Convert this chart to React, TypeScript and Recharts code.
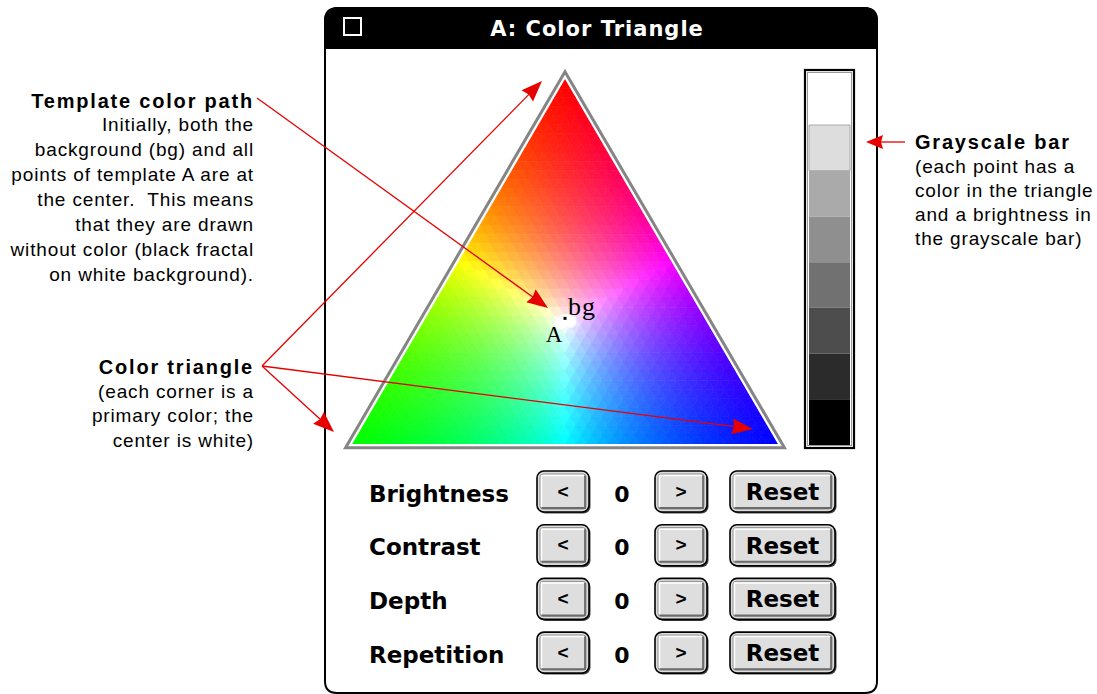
import React from "react";
import { ComposedChart, XAxis, YAxis, Scatter, ReferenceArea, ReferenceLine, ReferenceDot } from "recharts";

const W = 1097;
const H = 694;

// values
const windowTitle = "A: Color Triangle";
const cornerColors = [
  [255, 0, 0], // top
  [0, 255, 0], // bottom left
  [0, 0, 255], // bottom right
];
const grayLevels = [255, 221, 170, 143, 113, 77, 43, 0];
const controlNames = ["Brightness", "Contrast", "Depth", "Repetition"];
const controlValues = [0, 0, 0, 0];
const templatePoints = [
  { label: "bg", red: 1 / 3, green: 1 / 3, blue: 1 / 3 },
  { label: "A", red: 1 / 3, green: 1 / 3, blue: 1 / 3 },
];
const pathTitle = "Template color path";
const pathLines = [
  "Initially, both the",
  "background (bg) and all",
  "points of template A are at",
  "the center.  This means",
  "that they are drawn",
  "without color (black fractal",
  "on white background).",
];
const triangleTitle = "Color triangle";
const triangleLines = ["(each corner is a", "primary color; the", "center is white)"];
const grayTitle = "Grayscale bar";
const grayLines = ["(each point has a", "color in the triangle", "and a brightness in", "the grayscale bar)"];

// layout
const WIN = { x1: 325, x2: 877, y1: 8, y2: 693 };
const TRI = { left: 352, right: 778, top: 79, bottom: 444 };
const BAR = { x1: 805, x2: 854, y1: 70, y2: 448 };
const ROW_TOP = 471;
const ROW_STEP = 53.7;
const BTN_H = 41;
const RED = "#e60000";

const uiFont = "'DejaVu Sans', sans-serif";
const noteFont = "'Liberation Sans', Arial, sans-serif";

function mixColor(w: number[]) {
  const c = [0, 1, 2].map((k) => w[0] * cornerColors[0][k] + w[1] * cornerColors[1][k] + w[2] * cornerColors[2][k]);
  const m = Math.max(...c) || 1;
  return `rgb(${c.map((v) => Math.round((v / m) * 255)).join(",")})`;
}

function grow(pts: number[][], d: number) {
  const [A, B, C] = pts;
  const len = (p: number[], q: number[]) => Math.hypot(p[0] - q[0], p[1] - q[1]);
  const a = len(B, C), b = len(A, C), c = len(A, B);
  const s = a + b + c;
  const I = [(a * A[0] + b * B[0] + c * C[0]) / s, (a * A[1] + b * B[1] + c * C[1]) / s];
  const area = Math.abs((B[0] - A[0]) * (C[1] - A[1]) - (C[0] - A[0]) * (B[1] - A[1])) / 2;
  const r = area / (s / 2);
  const k = (r + d) / r;
  return pts.map((p) => [I[0] + k * (p[0] - I[0]), I[1] + k * (p[1] - I[1])]);
}

const ptsStr = (pts: number[][]) => pts.map((p) => p.join(",")).join(" ");

function TriangleMesh(props: any) {
  const { x, y, width, height } = props;
  const A = [x + width / 2, y];
  const B = [x, y + height];
  const C = [x + width, y + height];
  const N = 40;
  const P = (i: number, j: number) => [
    A[0] + (i / N) * (B[0] - A[0]) + (j / N) * (C[0] - B[0]),
    A[1] + (i / N) * (B[1] - A[1]) + (j / N) * (C[1] - B[1]),
  ];
  const Wt = (i: number, j: number) => [1 - i / N, (i - j) / N, j / N];
  const avg = (ws: number[][]) => [0, 1, 2].map((k) => (ws[0][k] + ws[1][k] + ws[2][k]) / 3);
  const cells: React.ReactNode[] = [];
  for (let i = 0; i < N; i++) {
    for (let j = 0; j <= i; j++) {
      const up = [[i, j], [i + 1, j], [i + 1, j + 1]];
      const col = mixColor(avg(up.map(([a, b]) => Wt(a, b))));
      cells.push(
        <polygon key={`u${i}-${j}`} points={ptsStr(up.map(([a, b]) => P(a, b)))} fill={col} stroke={col} strokeWidth={0.7} />
      );
      if (j < i) {
        const dn = [[i, j], [i, j + 1], [i + 1, j + 1]];
        const c2 = mixColor(avg(dn.map(([a, b]) => Wt(a, b))));
        cells.push(
          <polygon key={`d${i}-${j}`} points={ptsStr(dn.map(([a, b]) => P(a, b)))} fill={c2} stroke={c2} strokeWidth={0.7} />
        );
      }
    }
  }
  const tri = [A, B, C];
  return (
    <g>
      {cells}
      <polygon points={ptsStr(grow(tri, 1.1))} fill="none" stroke="#fff" strokeWidth={2.2} />
      <polygon points={ptsStr(grow(tri, 3.7))} fill="none" stroke="#858585" strokeWidth={3} />
    </g>
  );
}

function WindowFrame(props: any) {
  const { x, y, width, height } = props;
  const r = 13;
  const rb = 12;
  const tb = 40;
  const R = x + width;
  const Bm = y + height;
  const outer = `M${x},${y + r} Q${x},${y} ${x + r},${y} H${R - r} Q${R},${y} ${R},${y + r} V${Bm - rb} Q${R},${Bm} ${R - rb},${Bm} H${x + rb} Q${x},${Bm} ${x},${Bm - rb} Z`;
  const bar = `M${x},${y + tb} V${y + r} Q${x},${y} ${x + r},${y} H${R - r} Q${R},${y} ${R},${y + r} V${y + tb} Z`;
  return (
    <g>
      <path d={outer} fill="#fff" stroke="#000" strokeWidth={2} />
      <path d={bar} fill="#000" stroke="#000" strokeWidth={2} />
      <rect x={x + 19} y={y + 10} width={17} height={17} fill="#000" stroke="#fff" strokeWidth={2} />
      <text
        x={x + width / 2 - 4}
        y={y + 28}
        textAnchor="middle"
        fill="#fff"
        fontFamily={uiFont}
        fontWeight="bold"
        fontSize={21}
        letterSpacing={1}
      >
        {windowTitle}
      </text>
    </g>
  );
}

function GrayFrame(props: any) {
  const { x, y, width, height } = props;
  return (
    <g>
      <rect x={x} y={y} width={width} height={height} fill="#fff" stroke="#000" strokeWidth={2.2} />
      <rect x={x + 2.5} y={y + 2.5} width={width - 5} height={height - 5} fill="none" stroke="#9a9a9a" strokeWidth={1} />
    </g>
  );
}

function MacButton(props: any) {
  const { x, y, width, height, label, big } = props;
  return (
    <g>
      <rect x={x + 1.5} y={y + 1.5} width={width} height={height} rx={7} fill="#444" />
      <rect x={x} y={y} width={width} height={height} rx={7} fill="#dcdcdc" stroke="#000" strokeWidth={1.6} />
      <rect x={x + 3} y={y + 3} width={width - 6} height={height - 6} rx={3} fill="#dedede" stroke="#8c8c8c" strokeWidth={1} />
      <path
        d={`M${x + 4.5},${y + height - 5} V${y + 4.5} H${x + width - 5}`}
        fill="none"
        stroke="#fff"
        strokeWidth={1.5}
      />
      <path
        d={`M${x + 4.5},${y + height - 4} H${x + width - 4} V${y + 4.5}`}
        fill="none"
        stroke="#6a6a6a"
        strokeWidth={1.8}
      />
      <text
        x={x + width / 2}
        y={y + height / 2 + (big ? 8.5 : 6)}
        textAnchor="middle"
        fill="#000"
        fontFamily={big ? uiFont : noteFont}
        fontWeight="bold"
        fontSize={big ? 23 : 19}
      >
        {label}
      </text>
    </g>
  );
}

function Arrow(props: any) {
  const { x1, y1, x2, y2, hl = 21, hw = 8 } = props;
  const dx = x2 - x1;
  const dy = y2 - y1;
  const L = Math.hypot(dx, dy) || 1;
  const ux = dx / L;
  const uy = dy / L;
  const bx = x2 - ux * hl;
  const by = y2 - uy * hl;
  return (
    <g>
      <line x1={x1} y1={y1} x2={bx + ux * 3} y2={by + uy * 3} stroke={RED} strokeWidth={1.3} />
      <polygon
        points={`${x2},${y2} ${bx - uy * hw},${by + ux * hw} ${bx + ux * 2},${by + uy * 2} ${bx + uy * hw},${by - ux * hw}`}
        fill={RED}
      />
    </g>
  );
}

function NoteBlock(props: any) {
  const { cx, cy, title, lines, anchor, step, titleGap } = props;
  return (
    <g>
      <text
        x={cx}
        y={cy}
        textAnchor={anchor}
        fontFamily={noteFont}
        fontWeight="bold"
        fontSize={20}
        letterSpacing={1.8}
        fill="#000"
      >
        {title}
      </text>
      {lines.map((t: string, i: number) => (
        <text
          key={i}
          x={cx}
          y={cy + titleGap + i * step}
          textAnchor={anchor}
          fontFamily={noteFont}
          fontSize={19}
          letterSpacing={0.85}
          fill="#000"
          style={{ whiteSpace: "pre" }}
        >
          {t}
        </text>
      ))}
    </g>
  );
}

function TemplateMark(props: any) {
  const { cx, cy, payload } = props;
  if (payload.label === "bg") {
    return (
      <g>
        <path
          d={`M${cx - 11},${cy} l3,-5 h4 l2,-3 h7 l3,3 h3 v7 l-3,3 h-7 l-2,2 h-6 l-3,-3 z`}
          fill="#fff"
          stroke="#f4f4f4"
        />
        <rect x={cx - 1.5} y={cy - 5.5} width={3} height={3} fill="#000" />
        <text x={cx + 3} y={cy - 7} fontFamily="'Liberation Serif', serif" fontSize={26} letterSpacing={1} fill="#000">
          {payload.label}
        </text>
      </g>
    );
  }
  return (
    <text x={cx - 11} y={cy + 20} textAnchor="middle" fontFamily="'Liberation Serif', serif" fontSize={23} fill="#000">
      {payload.label}
    </text>
  );
}

export default function App() {
  const apex = [(TRI.left + TRI.right) / 2, TRI.top];
  const templateData = templatePoints.map((p) => ({
    ...p,
    x: p.red * apex[0] + p.green * TRI.left + p.blue * TRI.right,
    y: p.red * apex[1] + p.green * TRI.bottom + p.blue * TRI.bottom,
  }));

  const cellTop = BAR.y1 + 3;
  const cellBottom = BAR.y2 - 3;
  const cellH = (cellBottom - 125) / (grayLevels.length - 1);

  return (
    <div style={{ position: "absolute", left: 0, top: 0, background: "#fff" }}>
      <ComposedChart width={W} height={H} margin={{ top: 0, right: 0, bottom: 0, left: 0 }}>
        <XAxis type="number" dataKey="x" domain={[0, W]} hide allowDataOverflow />
        <YAxis type="number" dataKey="y" domain={[0, H]} reversed hide allowDataOverflow />

        <ReferenceArea x1={WIN.x1} x2={WIN.x2} y1={WIN.y1} y2={WIN.y2} shape={(p: any) => <WindowFrame {...p} />} />
        <ReferenceArea x1={TRI.left} x2={TRI.right} y1={TRI.top} y2={TRI.bottom} shape={(p: any) => <TriangleMesh {...p} />} />
        <ReferenceArea x1={BAR.x1} x2={BAR.x2} y1={BAR.y1} y2={BAR.y2} shape={(p: any) => <GrayFrame {...p} />} />
        {grayLevels.map((g, i) => {
          const fromBottom = grayLevels.length - 1 - i;
          const y2 = cellBottom - fromBottom * cellH;
          const y1 = i === 0 ? cellTop : y2 - cellH;
          return (
            <ReferenceArea
              key={`g${i}`}
              x1={BAR.x1 + 4}
              x2={BAR.x2 - 4}
              y1={y1}
              y2={y2}
              fill={`rgb(${g},${g},${g})`}
              fillOpacity={1}
              stroke={i === 1 ? "#aaa" : "none"}
              strokeWidth={1}
            />
          );
        })}

        {controlNames.map((name, i) => {
          const top = ROW_TOP + i * ROW_STEP;
          return (
            <React.Fragment key={name}>
              <ReferenceArea x1={537} x2={589} y1={top} y2={top + BTN_H} shape={(p: any) => <MacButton {...p} label="<" />} />
              <ReferenceArea x1={655} x2={707} y1={top} y2={top + BTN_H} shape={(p: any) => <MacButton {...p} label=">" />} />
              <ReferenceArea x1={730} x2={835} y1={top} y2={top + BTN_H} shape={(p: any) => <MacButton {...p} label="Reset" big />} />
              <ReferenceDot
                x={369}
                y={top + BTN_H / 2}
                r={0}
                shape={(p: any) => (
                  <g>
                    <text x={p.cx} y={p.cy + 10} fontFamily={uiFont} fontWeight="bold" fontSize={23} fill="#000">
                      {name}
                    </text>
                    <text x={p.cx + 253} y={p.cy + 10} textAnchor="middle" fontFamily={uiFont} fontWeight="bold" fontSize={22} fill="#000">
                      {controlValues[i]}
                    </text>
                  </g>
                )}
              />
            </React.Fragment>
          );
        })}

        <ReferenceLine segment={[{ x: 257, y: 98 }, { x: 548, y: 308 }]} shape={(p: any) => <Arrow {...p} />} />
        <ReferenceLine segment={[{ x: 262, y: 366 }, { x: 542, y: 81 }]} shape={(p: any) => <Arrow {...p} />} />
        <ReferenceLine segment={[{ x: 262, y: 366 }, { x: 753, y: 429 }]} shape={(p: any) => <Arrow {...p} />} />
        <ReferenceLine segment={[{ x: 262, y: 366 }, { x: 334, y: 432 }]} shape={(p: any) => <Arrow {...p} />} />
        <ReferenceLine segment={[{ x: 905, y: 142 }, { x: 866, y: 142 }]} shape={(p: any) => <Arrow {...p} hl={17} hw={7} />} />

        <Scatter data={templateData} isAnimationActive={false} shape={(p: any) => <TemplateMark {...p} />} />

        <ReferenceDot
          x={254}
          y={108}
          r={0}
          shape={(p: any) => <NoteBlock {...p} title={pathTitle} lines={pathLines} anchor="end" step={25} titleGap={23} />}
        />
        <ReferenceDot
          x={254}
          y={374}
          r={0}
          shape={(p: any) => <NoteBlock {...p} title={triangleTitle} lines={triangleLines} anchor="end" step={24.5} titleGap={23.5} />}
        />
        <ReferenceDot
          x={915}
          y={149}
          r={0}
          shape={(p: any) => <NoteBlock {...p} title={grayTitle} lines={grayLines} anchor="start" step={24} titleGap={23.5} />}
        />
      </ComposedChart>
    </div>
  );
}
